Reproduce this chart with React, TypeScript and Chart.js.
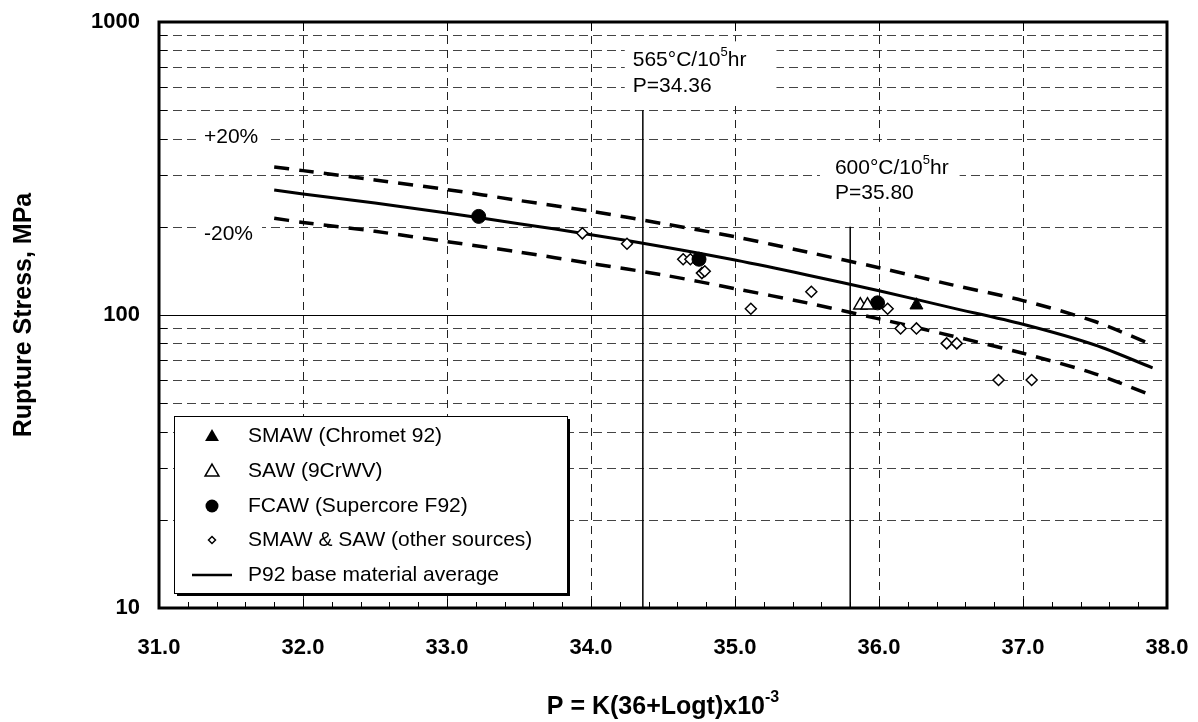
import React, { useEffect, useRef } from 'react';
import { Chart, registerables } from 'chart.js';

Chart.register(...registerables);

// ---- data ----
const curveP = [31.8, 32.0, 32.5, 33.0, 33.5, 34.0, 34.5, 35.0, 35.5, 36.0, 36.5, 37.0, 37.5, 37.9];
const meanS = [267, 259, 241, 223, 205, 188, 171, 154, 137, 121, 106, 93, 79, 66];
const upperS = [320, 311, 289, 268, 246, 226, 205, 185, 164, 145, 127, 112, 95, 79];
const lowerS = [214, 207, 193, 178, 164, 150, 137, 123, 110, 97, 85, 74, 63, 53];

const smawP = [36.26];
const smawS = [108];
const sawP = [35.87, 35.92];
const sawS = [108, 108];
const fcawP = [33.22, 34.75, 35.99];
const fcawS = [217, 155, 110];
const otherP = [33.94, 34.25, 34.64, 34.69, 34.77, 34.79, 35.11, 35.53, 36.06, 36.15, 36.26, 36.47, 36.54, 36.83, 37.06];
const otherS = [190, 175, 155, 155, 139, 141, 105, 120, 105, 90, 90, 80, 80, 60, 60];

const refLine1P = 34.36;
const refLine1Top = 500;
const refLine2P = 35.8;
const refLine2Top = 200;

const xMin = 31;
const xMax = 38;
const yMin = 10;
const yMax = 1000;
const yLabelValues = [10, 100, 1000];
const yGridValues = [20, 30, 40, 50, 60, 70, 80, 90, 200, 300, 400, 500, 600, 700, 800, 900];
const xGridValues = [32, 33, 34, 35, 36, 37];

const legendLabels = [
  'SMAW (Chromet 92)',
  'SAW (9CrWV)',
  'FCAW (Supercore F92)',
  'SMAW & SAW (other sources)',
  'P92 base material average',
];

const FONT = '"Liberation Sans", Arial, Helvetica, sans-serif';

type Seg = { t: string; sup?: boolean };

function richWidth(ctx: CanvasRenderingContext2D, segs: Seg[], size: number, weight: string) {
  let w = 0;
  for (const s of segs) {
    ctx.font = `${weight} ${s.sup ? Math.round(size * 0.62) : size}px ${FONT}`;
    w += ctx.measureText(s.t).width;
  }
  return w;
}

function drawRich(ctx: CanvasRenderingContext2D, x: number, y: number, segs: Seg[], size: number, weight = 'normal') {
  ctx.textBaseline = 'middle';
  ctx.textAlign = 'left';
  ctx.fillStyle = '#000';
  let cx = x;
  for (const s of segs) {
    const fs = s.sup ? Math.round(size * 0.62) : size;
    ctx.font = `${weight} ${fs}px ${FONT}`;
    ctx.fillText(s.t, cx, s.sup ? y - size * 0.36 : y);
    cx += ctx.measureText(s.t).width;
  }
}

const annotations = [
  { x: 34.29, lines: [[{ t: '565°C/10' }, { t: '5', sup: true }, { t: 'hr' }], [{ t: 'P=34.36' }]], ys: [740, 604], pad: [8, 30, 19, 15] },
  { x: 35.694, lines: [[{ t: '600°C/10' }, { t: '5', sup: true }, { t: 'hr' }], [{ t: 'P=35.80' }]], ys: [318, 261], pad: [15, 11, 20, 14] },
  { x: 31.3125, lines: [[{ t: '+20%' }]], ys: [405], pad: [6, 9, 11, 11] },
  { x: 31.3125, lines: [[{ t: '-20%' }]], ys: [188], pad: [6, 9, 11, 11] },
] as { x: number; lines: Seg[][]; ys: number[]; pad: number[] }[];

const decor = {
  id: 'decor',
  beforeDatasetsDraw(chart: any) {
    const { ctx, chartArea, scales } = chart;
    const { left, right, top, bottom } = chartArea;
    const xs = scales.x;
    const ys = scales.y;
    ctx.save();
    ctx.lineWidth = 1;
    for (const v of yGridValues) {
      const py = Math.round(ys.getPixelForValue(v)) + 0.5;
      ctx.setLineDash([9, 5]);
      ctx.strokeStyle = '#444';
      ctx.beginPath();
      ctx.moveTo(left, py);
      ctx.lineTo(right, py);
      ctx.stroke();
      ctx.setLineDash([]);
      ctx.strokeStyle = '#000';
      ctx.beginPath();
      ctx.moveTo(left, py);
      ctx.lineTo(left + 8, py);
      ctx.stroke();
    }
    {
      const py = Math.round(ys.getPixelForValue(100)) + 0.5;
      ctx.strokeStyle = '#000';
      ctx.beginPath();
      ctx.moveTo(left, py);
      ctx.lineTo(right, py);
      ctx.stroke();
    }
    for (const v of xGridValues) {
      const px = Math.round(xs.getPixelForValue(v)) + 0.5;
      ctx.setLineDash([8, 6]);
      ctx.strokeStyle = '#222';
      ctx.beginPath();
      ctx.moveTo(px, top);
      ctx.lineTo(px, bottom);
      ctx.stroke();
      ctx.setLineDash([]);
      ctx.strokeStyle = '#000';
      ctx.beginPath();
      ctx.moveTo(px, bottom);
      ctx.lineTo(px, bottom - 9);
      ctx.moveTo(px, top);
      ctx.lineTo(px, top + 9);
      ctx.stroke();
    }
    ctx.strokeStyle = '#000';
    for (let i = 1; i < 35; i++) {
      if (i % 5 === 0) continue;
      const v = xMin + i * 0.2;
      const px = Math.round(xs.getPixelForValue(v)) + 0.5;
      ctx.beginPath();
      ctx.moveTo(px, bottom);
      ctx.lineTo(px, bottom - 6);
      ctx.stroke();
    }
    const size = 21;
    for (const a of annotations) {
      const tx = xs.getPixelForValue(a.x);
      const tys = a.ys.map((v) => ys.getPixelForValue(v));
      let maxW = 0;
      for (const l of a.lines) maxW = Math.max(maxW, richWidth(ctx, l, size, 'normal'));
      const [pl, pr, pt, pb] = a.pad;
      ctx.fillStyle = '#fff';
      ctx.fillRect(tx - pl, tys[0] - pt, maxW + pl + pr, tys[tys.length - 1] + pb - (tys[0] - pt));
      a.lines.forEach((l, i) => drawRich(ctx, tx, tys[i], l, size));
    }
    ctx.restore();
  },
  afterDatasetsDraw(chart: any) {
    const { ctx, chartArea } = chart;
    const { left, right, top, bottom } = chartArea;
    ctx.save();
    ctx.strokeStyle = '#000';
    ctx.lineWidth = 3;
    ctx.strokeRect(left, top, right - left, bottom - top);
    ctx.restore();
  },
  afterDraw(chart: any) {
    const { ctx, chartArea } = chart;
    const { left, right } = chartArea;
    ctx.save();
    const bx = 174, by = 416, bw = 393, bh = 177;
    ctx.fillStyle = '#000';
    ctx.fillRect(bx + 3, by + 3, bw, bh);
    ctx.fillStyle = '#fff';
    ctx.fillRect(bx, by, bw, bh);
    ctx.strokeStyle = '#000';
    ctx.lineWidth = 1;
    ctx.strokeRect(bx + 0.5, by + 0.5, bw, bh);
    const rows = [436, 471, 506, 540, 575];
    const mx = 212;
    const tri = (cx: number, cy: number, r: number) => {
      ctx.beginPath();
      ctx.moveTo(cx, cy - r);
      ctx.lineTo(cx + r * 0.866, cy + r * 0.5);
      ctx.lineTo(cx - r * 0.866, cy + r * 0.5);
      ctx.closePath();
    };
    ctx.fillStyle = '#000';
    tri(mx, rows[0] + 1, 8);
    ctx.fill();
    ctx.lineWidth = 1.5;
    tri(mx, rows[1] + 1, 8);
    ctx.fillStyle = '#fff';
    ctx.fill();
    ctx.stroke();
    ctx.beginPath();
    ctx.arc(mx, rows[2], 6.5, 0, Math.PI * 2);
    ctx.fillStyle = '#000';
    ctx.fill();
    ctx.beginPath();
    ctx.moveTo(mx - 3.5, rows[3]);
    ctx.lineTo(mx, rows[3] - 3.5);
    ctx.lineTo(mx + 3.5, rows[3]);
    ctx.lineTo(mx, rows[3] + 3.5);
    ctx.closePath();
    ctx.fillStyle = '#fff';
    ctx.fill();
    ctx.stroke();
    ctx.lineWidth = 2.5;
    ctx.beginPath();
    ctx.moveTo(192, rows[4]);
    ctx.lineTo(232, rows[4]);
    ctx.stroke();
    legendLabels.forEach((t, i) => drawRich(ctx, 248, rows[i], [{ t }], 21));
    const segs: Seg[] = [{ t: 'P = K(36+Logt)x10' }, { t: '-3', sup: true }];
    const w = richWidth(ctx, segs, 25, 'bold');
    drawRich(ctx, (left + right) / 2 - w / 2, 707, segs, 25, 'bold');
    ctx.restore();
  },
};

export default function App() {
  const ref = useRef<HTMLCanvasElement | null>(null);
  useEffect(() => {
    if (!ref.current) return;
    const pts = (xs: number[], ys: number[]) => xs.map((x, i) => ({ x, y: ys[i] }));
    const lineDs = (data: any, width: number, dash: number[] = []) => ({
      data,
      showLine: true,
      borderColor: '#000',
      borderWidth: width,
      borderDash: dash,
      pointRadius: 0,
      pointHoverRadius: 0,
      tension: 0.3,
      fill: false,
      order: 5,
    });
    const chart = new Chart(ref.current, {
      type: 'scatter',
      data: {
        datasets: [
          { label: legendLabels[0], data: pts(smawP, smawS), pointStyle: 'triangle', pointRadius: 7.5, backgroundColor: '#000', borderColor: '#000', borderWidth: 1, order: 1 },
          { label: legendLabels[1], data: pts(sawP, sawS), pointStyle: 'triangle', pointRadius: 7.5, backgroundColor: '#fff', borderColor: '#000', borderWidth: 1.5, order: 1 },
          { label: legendLabels[2], data: pts(fcawP, fcawS), pointStyle: 'circle', pointRadius: 7, backgroundColor: '#000', borderColor: '#000', borderWidth: 1, order: 1 },
          { label: legendLabels[3], data: pts(otherP, otherS), pointStyle: 'rectRot', pointRadius: 5.5, backgroundColor: '#fff', borderColor: '#000', borderWidth: 1.5, order: 2 },
          { label: legendLabels[4], ...lineDs(pts(curveP, meanS), 3) },
          { label: '+20%', ...lineDs(pts(curveP, upperS), 3.5, [15, 10]) },
          { label: '-20%', ...lineDs(pts(curveP, lowerS), 3.5, [15, 10]) },
          { label: '565C', ...lineDs([{ x: refLine1P, y: yMin }, { x: refLine1P, y: refLine1Top }], 1.5), tension: 0 },
          { label: '600C', ...lineDs([{ x: refLine2P, y: yMin }, { x: refLine2P, y: refLine2Top }], 1.5), tension: 0 },
        ] as any,
      },
      options: {
        responsive: false,
        animation: false,
        devicePixelRatio: 1,
        layout: { padding: { left: 0, right: 31, top: 22, bottom: 0 } },
        plugins: { legend: { display: false }, tooltip: { enabled: false } },
        scales: {
          x: {
            type: 'linear',
            min: xMin,
            max: xMax,
            grid: { display: true, drawOnChartArea: false, drawTicks: true, tickLength: 27, color: 'transparent', tickColor: 'transparent' },
            border: { display: false },
            ticks: {
              stepSize: 1,
              padding: 0,
              color: '#000',
              font: { family: FONT, size: 22, weight: 'bold' },
              callback: (v: any) => Number(v).toFixed(1),
            },
            afterFit: (s: any) => { s.height = 114; },
          },
          y: {
            type: 'logarithmic',
            min: yMin,
            max: yMax,
            grid: { display: true, drawOnChartArea: false, drawTicks: true, tickLength: 19, color: 'transparent', tickColor: 'transparent' },
            border: { display: false },
            ticks: {
              autoSkip: false,
              padding: 0,
              color: '#000',
              font: { family: FONT, size: 22, weight: 'bold' },
              callback: (v: any) => (yLabelValues.includes(Number(v)) ? String(v) : ''),
            },
            title: {
              display: true,
              text: 'Rupture Stress, MPa',
              color: '#000',
              font: { family: FONT, size: 25, weight: 'bold' },
              padding: { top: 9, bottom: 0 },
            },
            afterFit: (s: any) => { s.width = 159; },
          },
        },
      } as any,
      plugins: [decor],
    });
    return () => chart.destroy();
  }, []);
  return (
    <div style={{ position: 'fixed', left: 0, top: 0, width: 1198, height: 722, background: '#fff' }}>
      <canvas ref={ref} width={1198} height={722} style={{ display: 'block', width: 1198, height: 722 }} />
    </div>
  );
}
